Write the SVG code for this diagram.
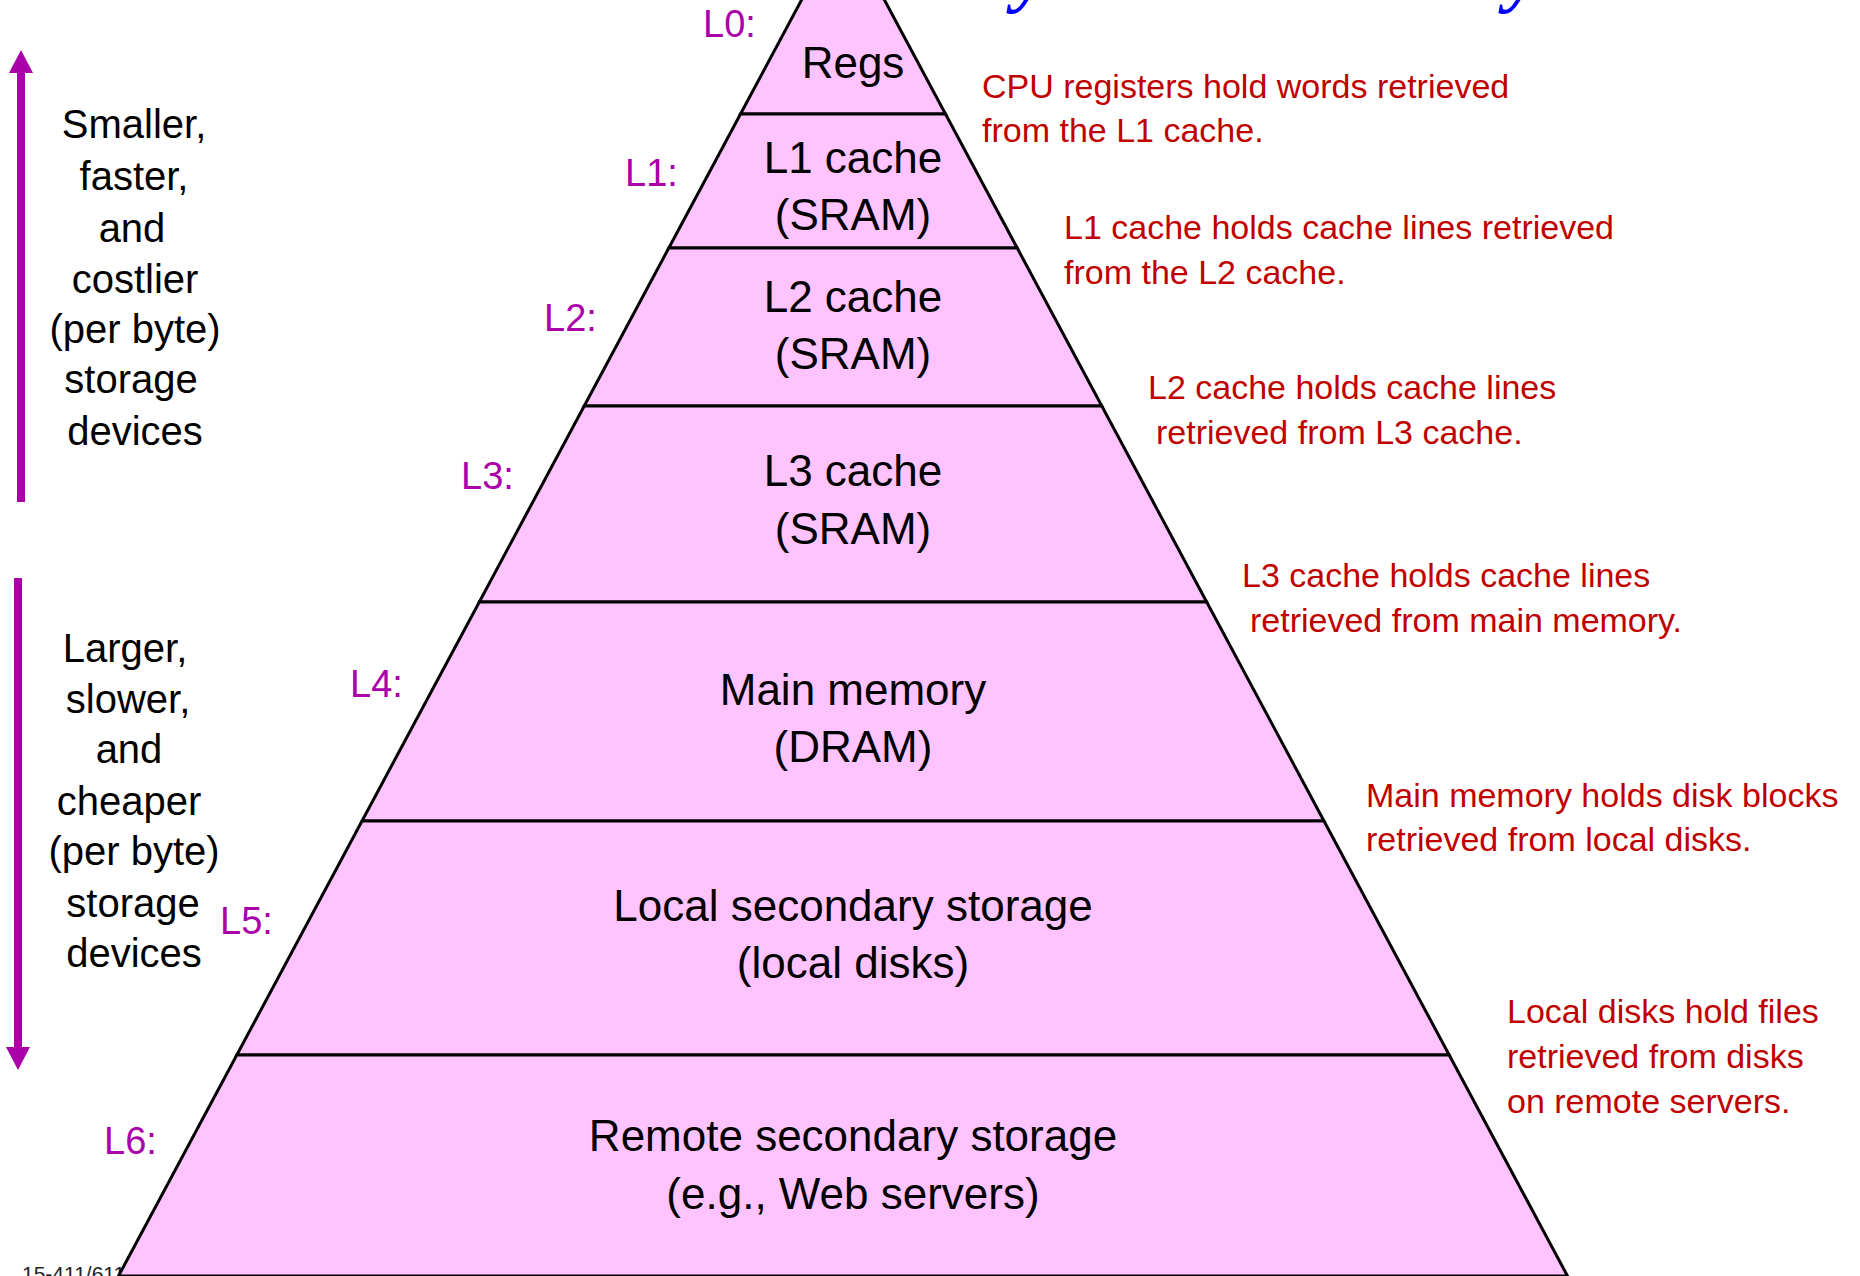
<svg xmlns="http://www.w3.org/2000/svg" width="1860" height="1276" viewBox="0 0 1860 1276">
<style>
.lvl{fill:#FFC4FF;stroke:#000;stroke-width:3;stroke-linejoin:miter}
.t{font-family:"Liberation Sans",Arial,sans-serif;font-size:44px;fill:#000;text-anchor:middle}
.lab{font-family:"Liberation Sans",Arial,sans-serif;font-size:38px;fill:#AA00AA}
.side{font-family:"Liberation Sans",Arial,sans-serif;font-size:40px;fill:#000;text-anchor:middle}
.note{font-family:"Liberation Sans",Arial,sans-serif;font-size:34px;fill:#C00000}
.title{font-family:"Liberation Serif","Times New Roman",serif;font-size:76px;font-style:italic;font-weight:bold;fill:#0000FF}
.arr{fill:#AA00AA}
</style>
<rect width="1860" height="1276" fill="#FFFFFF"/>
<g id="title-fragments">
<text class="title" x="1014" y="-2">y</text>
<text class="title" x="1506" y="-2">y</text>
</g>
<text id="footer" x="22" y="1281" font-family="Liberation Sans,Arial,sans-serif" font-size="21" fill="#222">15-411/611</text>
<g id="L0">
<polygon class="lvl" points="843,-77.5 945.5,114 740.5,114"/>
<text class="t" x="853" y="78">Regs</text>
<text class="lab" x="703" y="37">L0:</text>
</g>
<g id="L1">
<polygon class="lvl" points="740.5,114 945.5,114 1017.2,248 668.8,248"/>
<text class="t" x="853" y="173">L1 cache</text>
<text class="t" x="853" y="230">(SRAM)</text>
<text class="lab" x="625" y="186">L1:</text>
</g>
<g id="L2">
<polygon class="lvl" points="668.8,248 1017.2,248 1101.8,406 584.2,406"/>
<text class="t" x="853" y="312">L2 cache</text>
<text class="t" x="853" y="369">(SRAM)</text>
<text class="lab" x="544" y="331">L2:</text>
</g>
<g id="L3">
<polygon class="lvl" points="584.2,406 1101.8,406 1206.7,602 479.3,602"/>
<text class="t" x="853" y="486">L3 cache</text>
<text class="t" x="853" y="544">(SRAM)</text>
<text class="lab" x="461" y="489">L3:</text>
</g>
<g id="L4">
<polygon class="lvl" points="479.3,602 1206.7,602 1324,821 362,821"/>
<text class="t" x="853" y="705">Main memory</text>
<text class="t" x="853" y="762">(DRAM)</text>
<text class="lab" x="350" y="697">L4:</text>
</g>
<g id="L5">
<polygon class="lvl" points="362,821 1324,821 1449.2,1055 236.8,1055"/>
<text class="t" x="853" y="921">Local secondary storage</text>
<text class="t" x="853" y="978">(local disks)</text>
<text class="lab" x="220" y="934">L5:</text>
</g>
<g id="L6">
<polygon class="lvl" points="236.8,1055 1449.2,1055 1567.5,1276 118.5,1276"/>
<text class="t" x="853" y="1151">Remote secondary storage</text>
<text class="t" x="853" y="1209">(e.g., Web servers)</text>
<text class="lab" x="104" y="1154">L6:</text>
</g>
<g id="notes">
<text class="note" x="982" y="98">CPU registers hold words retrieved</text>
<text class="note" x="982" y="142">from the L1 cache.</text>
<text class="note" x="1064" y="239">L1 cache holds cache lines retrieved</text>
<text class="note" x="1064" y="284">from the L2 cache.</text>
<text class="note" x="1148" y="399">L2 cache holds cache lines</text>
<text class="note" x="1156" y="444">retrieved from L3 cache.</text>
<text class="note" x="1242" y="587">L3 cache holds cache lines</text>
<text class="note" x="1250" y="632">retrieved from main memory.</text>
<text class="note" x="1366" y="807">Main memory holds disk blocks</text>
<text class="note" x="1366" y="851">retrieved from local disks.</text>
<text class="note" x="1507" y="1023">Local disks hold files</text>
<text class="note" x="1507" y="1068">retrieved from disks</text>
<text class="note" x="1507" y="1113">on remote servers.</text>
</g>
<g id="side-top">
<text class="side" x="134" y="138">Smaller,</text>
<text class="side" x="134" y="190">faster,</text>
<text class="side" x="132" y="242">and</text>
<text class="side" x="135" y="293">costlier</text>
<text class="side" x="135" y="343">(per byte)</text>
<text class="side" x="131" y="393">storage</text>
<text class="side" x="135" y="445">devices</text>
</g>
<g id="side-bottom">
<text class="side" x="125" y="662">Larger,</text>
<text class="side" x="128" y="713">slower,</text>
<text class="side" x="129" y="763">and</text>
<text class="side" x="129" y="815">cheaper</text>
<text class="side" x="134" y="865">(per byte)</text>
<text class="side" x="133" y="917">storage</text>
<text class="side" x="134" y="967">devices</text>
</g>
<g id="connectors">
<rect class="arr" x="17" y="72" width="8" height="430"/>
<polygon class="arr" points="9,73 33,73 21,50"/>
<rect class="arr" x="14" y="578" width="8" height="470"/>
<polygon class="arr" points="6,1047 30,1047 18,1070"/>
</g>
</svg>
